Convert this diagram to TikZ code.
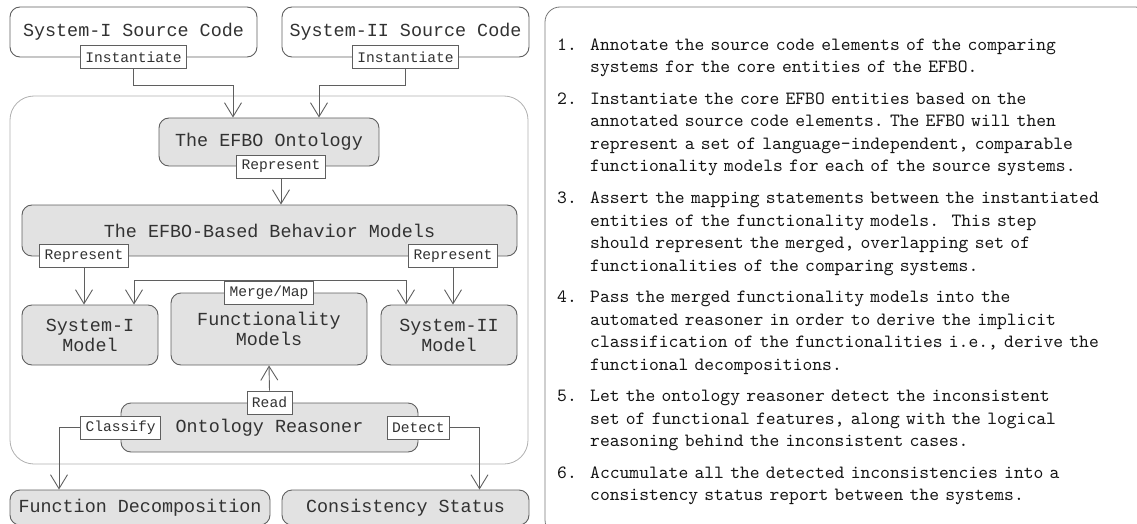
\documentclass[tikz,border=0pt]{standalone}
\usepackage{fontspec}
\newfontfamily\boxfont{Liberation Mono}
\newfontfamily\stepfont{lmmono10-regular.otf}
\usetikzlibrary{arrows.meta,calc}
\definecolor{boxline}{RGB}{95,95,95}
\definecolor{boxfill}{RGB}{226,226,226}
\definecolor{frameline}{RGB}{175,175,175}
\definecolor{boxtext}{RGB}{50,50,50}
\definecolor{steptext}{RGB}{20,20,20}
\tikzset{srcbox/.style={draw=boxline,line width=0.9pt,rounded corners=10pt,fill=white,inner sep=0pt,
    align=center,text=boxtext,font=\boxfont\fontsize{18.4}{20}\selectfont},
  modbox/.style={srcbox,fill=boxfill},
  tag/.style={draw=boxline,line width=0.9pt,fill=white,inner sep=0pt,inner xsep=5pt,minimum height=23pt,
    text=boxtext,font=\boxfont\fontsize{14.6}{16}\selectfont},
  flow/.style={-{Straight Barb[length=14pt,width=17pt]},boxline,line width=0.9pt},
  stepnum/.style={anchor=base west,inner sep=0pt,text=steptext,font=\stepfont\fontsize{18.7}{22.5}\selectfont},
  stepbody/.style={stepnum,text width=540pt,align=left}}

\begin{document}
\begin{tikzpicture}[x=1pt,y=-1pt]
\useasboundingbox (0,0) rectangle (1137,524);
% outer frames
\draw[frameline,line width=0.8pt,rounded corners=24pt] (10,96) rectangle (528,464);
\draw[boxline!85,line width=0.8pt,rounded corners=15pt] (545,7) rectangle (1150,535);

% boxes
\node[srcbox,minimum width=247pt,minimum height=50pt] (src1) at (133.5,32) {System-I Source Code};
\node[srcbox,minimum width=247pt,minimum height=50pt] (src2) at (405.5,32) {System-II Source Code};
\node[modbox,minimum width=220pt,minimum height=48pt] (efbo) at (269,142) {The EFBO Ontology};
\node[modbox,minimum width=495pt,minimum height=51pt] (behav) at (269.5,230.5) {The EFBO-Based Behavior Models};
\node[modbox,minimum width=136pt,minimum height=60pt] (sys1) at (90,335) {System-I\\Model};
\node[modbox,minimum width=196pt,minimum height=72pt] (func) at (269,329) {Functionality\\Models};
\node[modbox,minimum width=136pt,minimum height=60pt] (sys2) at (449,335) {System-II\\Model};
\node[modbox,minimum width=297pt,minimum height=49pt] (reason) at (269.5,427.5) {Ontology Reasoner};
\node[modbox,minimum width=260pt,minimum height=35pt] (fdec) at (140,507.5) {Function Decomposition};
\node[modbox,minimum width=247pt,minimum height=35pt] (cstat) at (405.5,507.5) {Consistency Status};

% edge tags
\node[tag] (inst1) at (src1.south) {Instantiate};
\node[tag] (inst2) at (src2.south) {Instantiate};
\node[tag] (rep) at ([xshift=12]efbo.south) {Represent};
\node[tag] (repL) at (84,256) {Represent};
\node[tag] (repR) at (453,256) {Represent};
\node[tag] (merge) at (func.north) {Merge/Map};
\node[tag] (read) at (reason.north) {Read};
\node[tag] (classify) at (reason.west) {Classify};
\node[tag] (detect) at (reason.east) {Detect};

% connectors
\draw[flow] (inst1.south) -- ++(0,16) -| ([xshift=-36]efbo.north);
\draw[flow] (inst2.south) -- ++(0,16) -| ([xshift=50]efbo.north);
\draw[flow] (rep.south) -- (rep.south |- behav.north);
\draw[flow] (repL.south) -- (repL.south |- sys1.north);
\draw[flow] (repR.south) -- (repR.south |- sys2.north);
\draw[flow] (merge.north) -| ([xshift=44]sys1.north);
\draw[flow] (merge.north) -| ([xshift=-43]sys2.north);
\draw[flow] (read.north) -- (func.south);
\draw[flow] (classify.west) -| ([xshift=-81]fdec.north);
\draw[flow] (detect.east) -| ([xshift=74]cstat.north);

% steps on the right
\frenchspacing
\foreach \n/\y/\txt in {
  1/50.5/{Annotate the source code elements of the comparing\\systems for the core entities of the EFBO.},
  2/104.5/{Instantiate the core EFBO entities based on the\\annotated source code elements. The EFBO will then\\represent a set of language-independent, comparable\\functionality models for each of the source systems.},
  3/203.5/{Assert the mapping statements between the instantiated\\entities of the functionality models.\ \ This step\\should represent the merged, overlapping set of\\functionalities of the comparing systems.},
  4/302.5/{Pass the merged functionality models into the\\automated reasoner in order to derive the implicit\\classification of the functionalities i.e., derive the\\functional decompositions.},
  5/401.5/{Let the ontology reasoner detect the inconsistent\\set of functional features, along with the logical\\reasoning behind the inconsistent cases.},
  6/478/{Accumulate all the detected inconsistencies into a\\consistency status report between the systems.}}{
  \node[stepnum] (num\n) at (557,\y) {\n.};
  \node[stepbody] (item\n) at (590,\y) {\txt};
}
\end{tikzpicture}
\end{document}
